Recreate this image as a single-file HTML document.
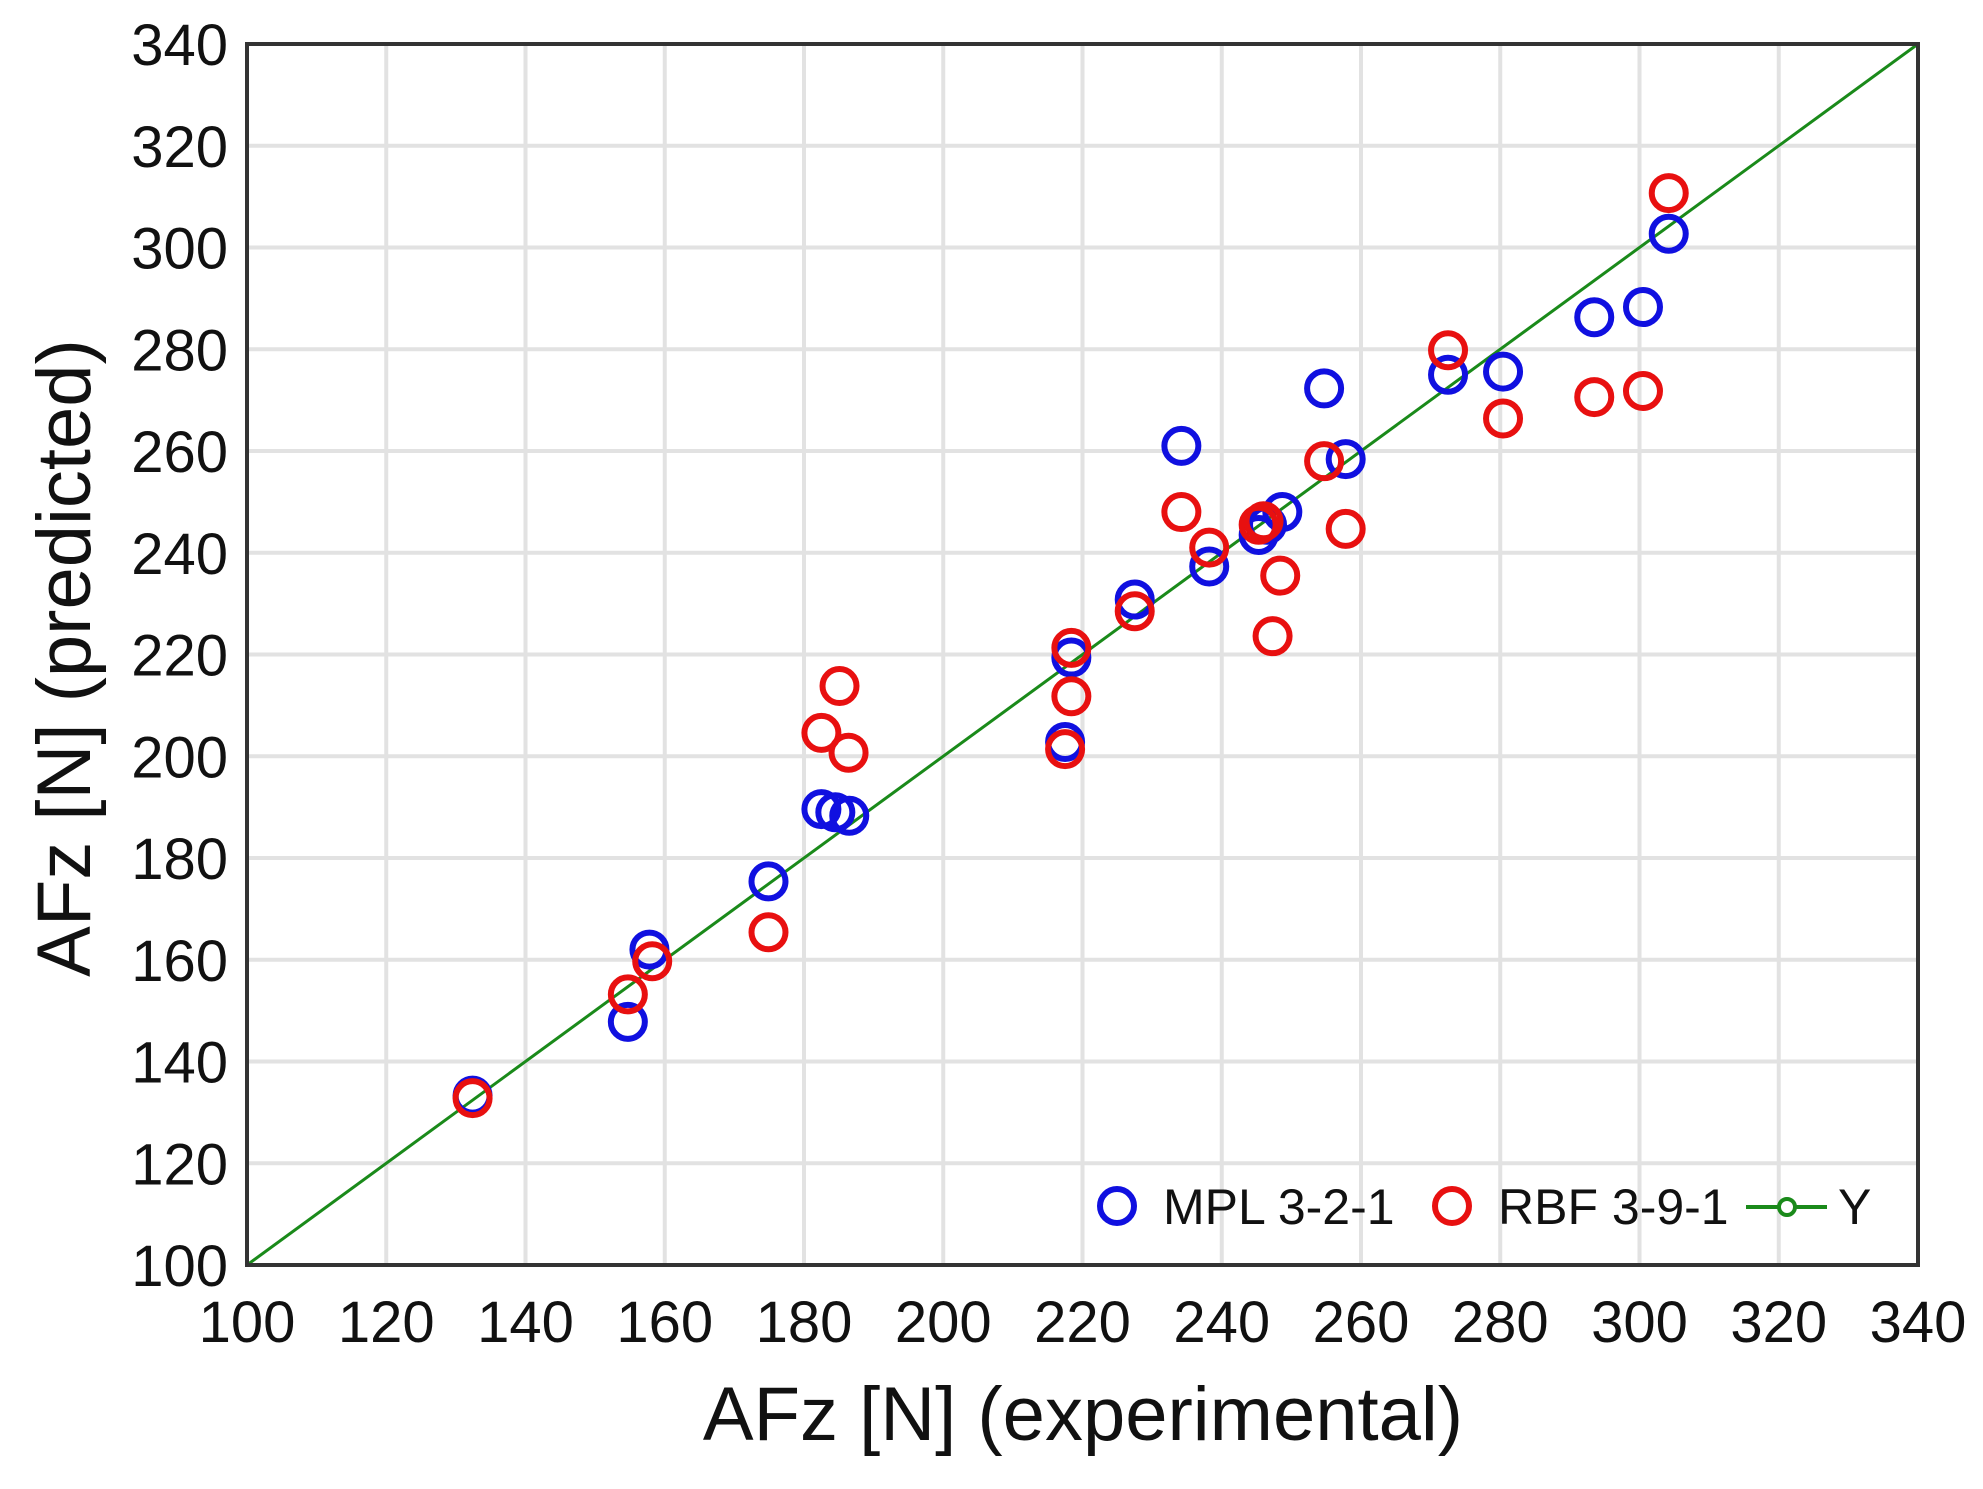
<!DOCTYPE html>
<html><head><meta charset="utf-8"><style>
html,body{margin:0;padding:0;background:#fff;}
svg text{font-family:"Liberation Sans",sans-serif;fill:#111;}
</style></head><body>
<svg id="chart" width="1983" height="1484" viewBox="0 0 1983 1484" xmlns="http://www.w3.org/2000/svg">
<g id="grid"></g>
<g id="ticks"></g>
<g id="series"></g>
<rect x="247" y="44" width="1671" height="1221" fill="none" stroke="#333" stroke-width="4"/>
<text x="1083" y="1440" font-size="76" text-anchor="middle">AFz [N] (experimental)</text>
<text transform="translate(90,658) rotate(-90)" font-size="76" text-anchor="middle">AFz [N] (predicted)</text>
<g>
<circle cx="1117" cy="1206" r="17" fill="none" stroke="#1010e0" stroke-width="6"/>
<text x="1163" y="1224" font-size="50">MPL 3-2-1</text>
<circle cx="1452" cy="1206" r="17" fill="none" stroke="#e81010" stroke-width="6"/>
<text x="1498" y="1224" font-size="50">RBF 3-9-1</text>
<line x1="1746" y1="1207" x2="1827" y2="1207" stroke="#1a8a1a" stroke-width="4"/>
<circle cx="1787" cy="1207" r="8" fill="#fff" stroke="#1a8a1a" stroke-width="4"/>
<text x="1838" y="1224" font-size="50">Y</text>
</g>
</svg>
<script>
const xTicks=[100,120,140,160,180,200,220,240,260,280,300,320,340];
const yTicks=[100,120,140,160,180,200,220,240,260,280,300,320,340];
const mplX=[132.4,154.7,157.8,174.9,182.5,184.5,186.5,217.5,218.4,227.5,234.2,238.2,245.3,246.5,248.7,254.7,257.8,272.5,280.4,293.5,300.5,304.2];
const mplY=[133.3,147.8,162,175.4,189.6,189,188.3,202.8,219.4,230.8,261,237.3,243.5,245.5,248,272.3,258.4,275,275.6,286.3,288.3,302.7];
const rbfX=[132.4,154.7,158.2,174.9,182.5,185.1,186.4,217.5,218.4,218.4,227.5,234.2,238.2,245.3,246,247.3,248.4,254.7,257.8,272.5,280.4,293.5,300.5,304.2];
const rbfY=[132.8,153.2,159.7,165.4,204.6,213.8,200.7,201.4,211.8,221.3,228.5,248,241,245.5,246.2,223.6,235.5,258,244.7,279.8,266.4,270.6,271.8,310.7];
const lineX=[100,340];
const lineY=[100,340];
const NS="http://www.w3.org/2000/svg";
const L=247,R=1918,T=44,B=1265;
const sx=v=>L+(v-100)/240*(R-L);
const sy=v=>B-(v-100)/240*(B-T);
function mk(tag,attrs,parent){const e=document.createElementNS(NS,tag);for(const k in attrs)e.setAttribute(k,attrs[k]);parent.appendChild(e);return e;}
const grid=document.getElementById('grid'),ticks=document.getElementById('ticks'),series=document.getElementById('series');
xTicks.forEach(v=>{
  const l=mk('line',{x1:sx(v),x2:sx(v),y1:T,y2:B,stroke:'#e2e2e2','stroke-width':4},grid);
  
  
  const t=mk('text',{x:sx(v),y:1342,'font-size':58,'text-anchor':'middle'},ticks);t.textContent=v;
  
  
});
yTicks.forEach(v=>{
  const l=mk('line',{x1:L,x2:R,y1:sy(v),y2:sy(v),stroke:'#e2e2e2','stroke-width':4},grid);
  
  
  const t=mk('text',{x:228,y:sy(v)+21,'font-size':58,'text-anchor':'end'},ticks);t.textContent=v;
  
  
});
const yl=mk('line',{x1:sx(lineX[0]),y1:sy(lineY[0]),x2:sx(lineX[1]),y2:sy(lineY[1]),stroke:'#1a8a1a','stroke-width':3},series);


mplX.forEach((x,i)=>{
  const c=mk('circle',{cx:sx(x),cy:sy(mplY[i]),r:17,fill:'none',stroke:'#1010e0','stroke-width':6},series);
  
  
});
rbfX.forEach((x,i)=>{
  const c=mk('circle',{cx:sx(x),cy:sy(rbfY[i]),r:17,fill:'none',stroke:'#e81010','stroke-width':6},series);
  
  
});
</script>
</body></html>
